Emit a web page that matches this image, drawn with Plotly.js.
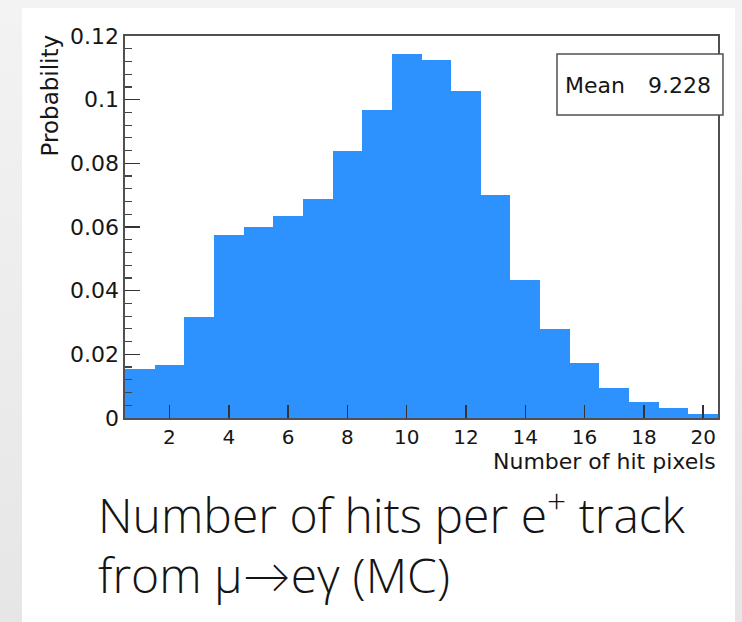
<!DOCTYPE html>
<html>
<head>
<meta charset="utf-8">
<script src="https://cdn.plot.ly/plotly-3.0.1.min.js"></script>
<style>
  html, body { margin: 0; padding: 0; }
  body {
    width: 742px; height: 622px; position: relative; overflow: hidden;
    background: linear-gradient(#f3f3f3, #e6e6e6);
  }
  #panel { position: absolute; left: 22px; top: 8px; width: 713px; height: 614px; background: #ffffff; }
  #chart { position: absolute; left: 0; top: 0; width: 742px; height: 622px; }
</style>
</head>
<body>
<div id="panel"></div>
<div id="chart"></div>
<script>
// Hit multiplicity per positron track (normalised histogram, one bin per hit count)
const hitCounts = [1, 2, 3, 4, 5, 6, 7, 8, 9, 10, 11, 12, 13, 14, 15, 16, 17, 18, 19, 20];
const probability = [0.0153, 0.0166, 0.0318, 0.0574, 0.0600, 0.0634, 0.0689, 0.0838, 0.0968, 0.1143,
                     0.1125, 0.1026, 0.0699, 0.0433, 0.0281, 0.0173, 0.0095, 0.0051, 0.0030, 0.0013];
const statLabel = 'Mean';
const statValue = '9.228';
const xTitle = 'Number of hit pixels';
const yTitle = 'Probability';
const captionLines = ['Number of hits per e<sup>+</sup> track', 'from \u03bc\u2192e\u03b3 (MC)'];

const rootFamily = 'DejaVu Sans, Liberation Sans, sans-serif';
const textColor = '#161616';
const frameColor = '#505050';
const captionFont = { family: 'Open Sans, Lato, sans-serif', size: 48, weight: 300, color: '#141414' };

const trace = {
  type: 'bar',
  x: hitCounts,
  y: probability,
  width: 1,
  marker: { color: 'rgb(45,146,253)', line: { width: 0 } },
  hoverinfo: 'skip'
};

const layout = {
  width: 742,
  height: 622,
  margin: { l: 125, r: 24, t: 36, b: 204 },
  paper_bgcolor: 'rgba(0,0,0,0)',
  plot_bgcolor: '#ffffff',
  showlegend: false,
  bargap: 0,
  xaxis: {
    range: [0.5, 20.5],
    tickmode: 'linear', tick0: 0, dtick: 2,
    ticks: 'inside', ticklen: 13, tickwidth: 1.5, tickcolor: '#333333',
    showline: true, linecolor: frameColor, linewidth: 1.6, mirror: true,
    showgrid: false, zeroline: false,
    tickfont: { family: rootFamily, size: 20, color: textColor }
  },
  yaxis: {
    range: [0, 0.12],
    tickmode: 'linear', tick0: 0, dtick: 0.02,
    ticks: 'inside', ticklen: 15, tickwidth: 1.5, tickcolor: '#333333',
    minor: { dtick: 0.004, ticks: 'inside', ticklen: 7, tickwidth: 1.2, tickcolor: '#444444', showgrid: false },
    showline: true, linecolor: frameColor, linewidth: 1.6, mirror: true,
    showgrid: false, zeroline: false,
    tickfont: { family: rootFamily, size: 22, color: textColor }
  },
  shapes: [
    // statistics box
    { type: 'rect', xref: 'paper', yref: 'paper', x0: 0.7285, x1: 1.0084, y0: 0.7932, y1: 0.9529,
      line: { color: frameColor, width: 1.5 }, fillcolor: '#ffffff', layer: 'above' }
  ],
  annotations: [
    { text: statLabel, xref: 'paper', yref: 'paper', x: 0.7386, y: 0.8717,
      xanchor: 'left', yanchor: 'middle', showarrow: false,
      font: { family: rootFamily, size: 22, color: textColor } },
    { text: statValue, xref: 'paper', yref: 'paper', x: 0.9916, y: 0.8717,
      xanchor: 'right', yanchor: 'middle', showarrow: false,
      font: { family: rootFamily, size: 22, color: textColor } },
    { text: yTitle, xref: 'paper', yref: 'paper', x: -0.1273, y: 1.008, textangle: -90,
      xanchor: 'center', yanchor: 'top', showarrow: false,
      font: { family: rootFamily, size: 23, color: textColor } },
    { text: xTitle, xref: 'paper', yref: 'paper', x: 1.0, y: -0.0765,
      xanchor: 'right', yanchor: 'top', showarrow: false,
      font: { family: rootFamily, size: 22, color: textColor } },
    { text: captionLines[0], xref: 'paper', yref: 'paper', x: -0.0490, y: -0.3430,
      xanchor: 'left', yanchor: 'bottom', showarrow: false, align: 'left', font: captionFont },
    { text: captionLines[1], xref: 'paper', yref: 'paper', x: -0.0490, y: -0.4990,
      xanchor: 'left', yanchor: 'bottom', showarrow: false, align: 'left', font: captionFont }
  ]
};

Plotly.newPlot('chart', [trace], layout, { staticPlot: true, displayModeBar: false });
</script>
</body>
</html>
